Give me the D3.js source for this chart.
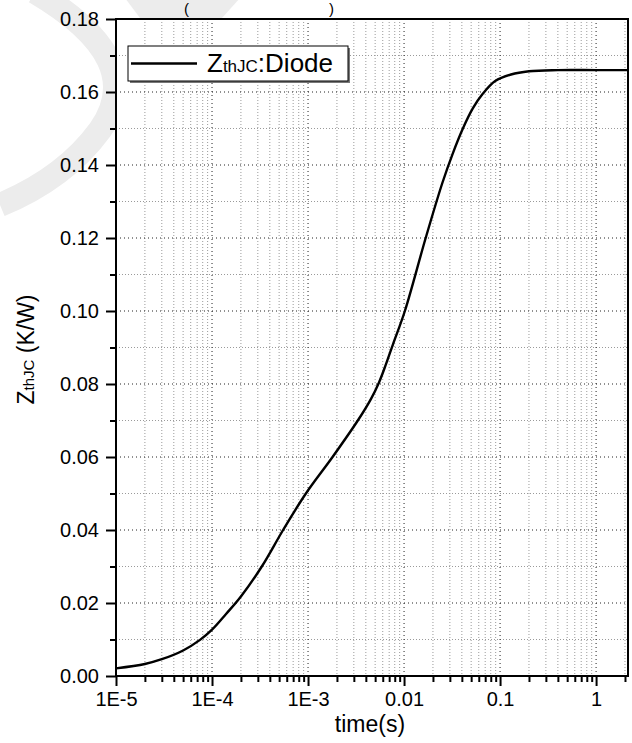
<!DOCTYPE html>
<html>
<head>
<meta charset="utf-8">
<script src="https://cdn.jsdelivr.net/npm/d3@7"></script>
<style>
  html, body { margin: 0; padding: 0; background: #fff; }
  text { font-family: "Liberation Sans", Arial, sans-serif; }
</style>
</head>
<body>
<div id="chart"></div>
<script>
// time (s) and thermal impedance Zth (K/W)
const timeValues = [1e-5, 2e-5, 3e-5, 5e-5, 7.5e-5, 1e-4, 1.4e-4, 2e-4, 3.3e-4, 5.5e-4,
  9.5e-4, 1.8e-3, 3.3e-3, 4.5e-3, 5.5e-3, 6.5e-3, 7.7e-3, 0.0102, 0.0168, 0.025,
  0.032, 0.041, 0.052, 0.066, 0.089, 0.13, 0.2, 0.4, 1, 2.1];
const zthValues = [0.0021, 0.0033, 0.0046, 0.0070, 0.0099, 0.0127, 0.0170, 0.0218, 0.0300, 0.0400,
  0.0500, 0.0600, 0.0700, 0.0758, 0.0805, 0.0855, 0.0910, 0.1000, 0.1200, 0.1350,
  0.1430, 0.1500, 0.1555, 0.1595, 0.1630, 0.1648, 0.1657, 0.1660, 0.1660, 0.1660];

const xTickValues = [1e-5, 1e-4, 1e-3, 0.01, 0.1, 1];
const xTickLabels = ["1E-5", "1E-4", "1E-3", "0.01", "0.1", "1"];
const yTickValues = [0, 0.02, 0.04, 0.06, 0.08, 0.10, 0.12, 0.14, 0.16, 0.18];
const yTickLabels = ["0.00", "0.02", "0.04", "0.06", "0.08", "0.10", "0.12", "0.14", "0.16", "0.18"];
const seriesName = ":Diode";

const svgWidth = 632;
const svgHeight = 743;
const margin = {left: 116, top: 19, right: 4, bottom: 67};
const plotW = svgWidth - margin.left - margin.right;
const plotH = svgHeight - margin.top - margin.bottom;

const xDomain = [1e-5, 2.15];
const xScale = d3.scaleLog().domain(xDomain).range([margin.left, margin.left + plotW]);
const yScale = d3.scaleLinear().domain([0, 0.18]).range([margin.top + plotH, margin.top]);

// minor ticks
const xMinor = [];
for (let e = -5; e <= 0; e++) {
  for (let k = 2; k <= 9; k++) {
    const v = k * Math.pow(10, e);
    if (v <= xDomain[1]) xMinor.push(v);
  }
}
const yMinor = d3.range(0.01, 0.18, 0.02);

const svg = d3.select("#chart")
  .append("svg")
  .attr("width", svgWidth)
  .attr("height", svgHeight);

// faint watermark behind the figure
svg.append("path")
  .attr("d", "M 35,-8 Q 150,60 100,130 Q 65,178 0,205")
  .attr("fill", "none")
  .attr("stroke", "#ececec")
  .attr("stroke-width", 24);
svg.append("path")
  .attr("d", "M 125,-2 L 240,-2 L 222,18 L 140,18 Z")
  .attr("fill", "#ececec");

// title remains at the very top
svg.append("text").attr("x", 184).attr("y", 14).attr("font-size", 15).text("(");
svg.append("text").attr("x", 329).attr("y", 14).attr("font-size", 15).text(")");

// plot background
svg.append("rect")
  .attr("x", margin.left).attr("y", margin.top)
  .attr("width", plotW).attr("height", plotH)
  .attr("fill", "#fff");

// grid
const grid = svg.append("g");
grid.selectAll(".vminor").data(xMinor).enter().append("line")
  .attr("x1", d => xScale(d)).attr("x2", d => xScale(d))
  .attr("y1", margin.top).attr("y2", margin.top + plotH)
  .attr("stroke", "#9a9a9a").attr("stroke-width", 1)
  .attr("stroke-dasharray", "1,2");
grid.selectAll(".hminor").data(yMinor).enter().append("line")
  .attr("x1", margin.left).attr("x2", margin.left + plotW)
  .attr("y1", d => yScale(d)).attr("y2", d => yScale(d))
  .attr("stroke", "#9a9a9a").attr("stroke-width", 1)
  .attr("stroke-dasharray", "1,2");
grid.selectAll(".vmajor").data(xTickValues.slice(1)).enter().append("line")
  .attr("x1", d => xScale(d)).attr("x2", d => xScale(d))
  .attr("y1", margin.top).attr("y2", margin.top + plotH)
  .attr("stroke", "#222").attr("stroke-width", 1)
  .attr("stroke-dasharray", "1,3");
grid.selectAll(".hmajor").data(yTickValues.slice(1, -1)).enter().append("line")
  .attr("x1", margin.left).attr("x2", margin.left + plotW)
  .attr("y1", d => yScale(d)).attr("y2", d => yScale(d))
  .attr("stroke", "#222").attr("stroke-width", 1)
  .attr("stroke-dasharray", "1,3");

// curve
const data = timeValues.map((t, i) => ({t: t, z: zthValues[i]}));
const line = d3.line()
  .x(d => xScale(d.t))
  .y(d => yScale(d.z))
  .curve(d3.curveCatmullRom.alpha(0.5));
svg.append("path")
  .datum(data)
  .attr("d", line)
  .attr("fill", "none")
  .attr("stroke", "#000")
  .attr("stroke-width", 2.4);

// frame
svg.append("rect")
  .attr("x", margin.left).attr("y", margin.top)
  .attr("width", plotW).attr("height", plotH)
  .attr("fill", "none").attr("stroke", "#000").attr("stroke-width", 2);

// axes
const xAxis = d3.axisBottom(xScale)
  .tickValues(xTickValues)
  .tickFormat((d, i) => xTickLabels[i])
  .tickSize(10).tickPadding(6);
const gx = svg.append("g")
  .attr("transform", `translate(0, ${margin.top + plotH})`)
  .call(xAxis);
gx.select(".domain").remove();
gx.selectAll(".tick line").attr("stroke-width", 2);
gx.selectAll("text").attr("font-size", 20).attr("fill", "#000")
  .style("font-family", "'Liberation Sans', Arial, sans-serif");

const gxMinor = svg.append("g")
  .attr("transform", `translate(0, ${margin.top + plotH})`)
  .call(d3.axisBottom(xScale).tickValues(xMinor).tickFormat("").tickSize(6));
gxMinor.select(".domain").remove();
gxMinor.selectAll(".tick line").attr("stroke-width", 2);

const yAxis = d3.axisLeft(yScale)
  .tickValues(yTickValues)
  .tickFormat((d, i) => yTickLabels[i])
  .tickSize(10).tickPadding(7);
const gy = svg.append("g")
  .attr("transform", `translate(${margin.left}, 0)`)
  .call(yAxis);
gy.select(".domain").remove();
gy.selectAll(".tick line").attr("stroke-width", 2);
gy.selectAll("text").attr("font-size", 20).attr("fill", "#000")
  .style("font-family", "'Liberation Sans', Arial, sans-serif");

const gyMinor = svg.append("g")
  .attr("transform", `translate(${margin.left}, 0)`)
  .call(d3.axisLeft(yScale).tickValues(yMinor).tickFormat("").tickSize(6));
gyMinor.select(".domain").remove();
gyMinor.selectAll(".tick line").attr("stroke-width", 2);

// axis titles
svg.append("text")
  .attr("x", margin.left + plotW / 2 - 2)
  .attr("y", 732)
  .attr("text-anchor", "middle")
  .attr("font-size", 23)
  .text("time(s)");

const yTitle = svg.append("text")
  .attr("transform", `translate(34, ${margin.top + plotH / 2 + 2}) rotate(-90)`)
  .attr("text-anchor", "middle")
  .attr("font-size", 23);
yTitle.append("tspan").text("Z");
yTitle.append("tspan").attr("font-size", 15).text("thJC");
yTitle.append("tspan").text(" (K/W)");

// legend
const legend = svg.append("g");
legend.append("rect")
  .attr("x", 130).attr("y", 48).attr("width", 220).attr("height", 35)
  .attr("fill", "#777");
legend.append("rect")
  .attr("x", 128).attr("y", 46).attr("width", 220).attr("height", 35)
  .attr("fill", "#fff").attr("stroke", "#000").attr("stroke-width", 1);
legend.append("line")
  .attr("x1", 131).attr("x2", 197).attr("y1", 63.5).attr("y2", 63.5)
  .attr("stroke", "#000").attr("stroke-width", 2.4);
const legText = legend.append("text")
  .attr("x", 207).attr("y", 72)
  .attr("font-size", 26);
legText.append("tspan").text("Z");
legText.append("tspan").attr("font-size", 17).text("thJC");
legText.append("tspan").text(seriesName);
</script>
</body>
</html>
